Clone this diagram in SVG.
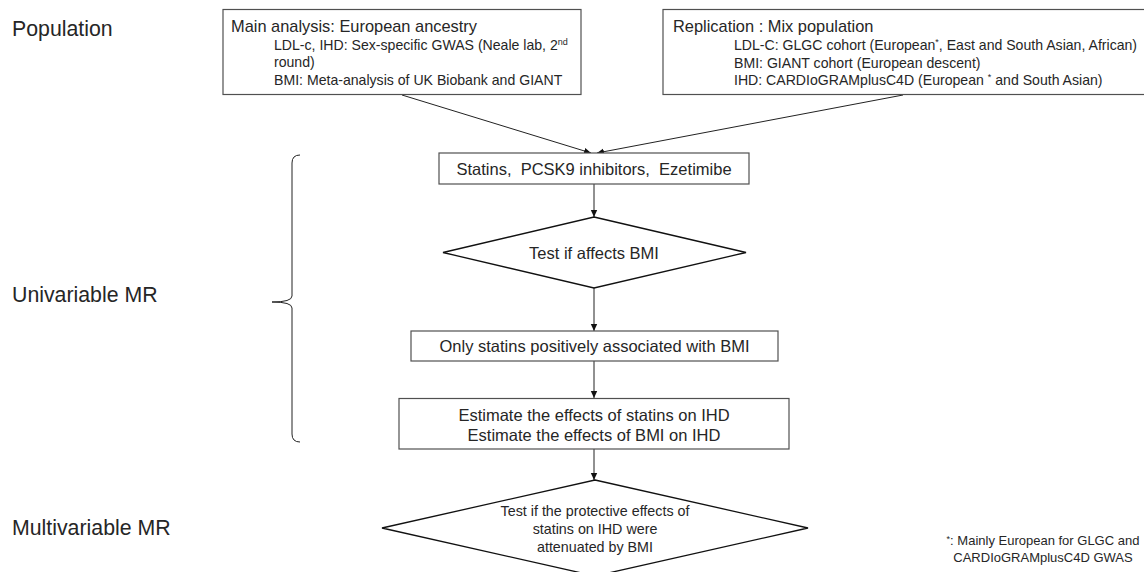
<svg xmlns="http://www.w3.org/2000/svg" width="1144" height="572" viewBox="0 0 1144 572">
<style>
text{font-family:"Liberation Sans",Arial,sans-serif;fill:#262626}
.lab{font-size:21.3px}
.title{font-size:16.4px}
.sub{font-size:14.1px}
.c{font-size:16.5px;text-anchor:middle}
.d{font-size:14.3px;text-anchor:middle}
.box{fill:#fff;stroke:#505050;stroke-width:1.2}
.dia{fill:#fff;stroke:#111;stroke-width:1.3}
.con{fill:none;stroke:#222;stroke-width:1}
.sup{font-size:9px}
</style>
<defs>
<marker id="ah" markerWidth="8" markerHeight="8" refX="7" refY="4" orient="auto" markerUnits="userSpaceOnUse">
<path d="M0,0.8 L7,4 L0,7.2 Z" fill="#111"/>
</marker>
</defs>
<g id="labels">
<text class="lab" x="12" y="36">Population</text>
<text class="lab" x="12" y="302">Univariable MR</text>
<text class="lab" x="12" y="535">Multivariable MR</text>
</g>
<g id="brace">
<path class="con" stroke="#333" d="M300,155 Q292,155 292,163 L292,296 Q292,302 272,302 Q292,302 292,308 L292,434 Q292,442 300,442"/>
</g>
<g id="connectors">
<line class="con" x1="402" y1="95" x2="591" y2="153" marker-end="url(#ah)"/>
<line class="con" x1="903" y1="95" x2="597" y2="153" marker-end="url(#ah)"/>
<line class="con" x1="594" y1="184" x2="594" y2="217" marker-end="url(#ah)"/>
<line class="con" x1="594" y1="288" x2="594" y2="331" marker-end="url(#ah)"/>
<line class="con" x1="594" y1="361" x2="594" y2="398" marker-end="url(#ah)"/>
<line class="con" x1="594" y1="449" x2="594" y2="480" marker-end="url(#ah)"/>
</g>
<g id="main">
<rect class="box" x="223" y="9.5" width="358" height="85"/>
<text class="title" x="231" y="31.5">Main analysis: European ancestry</text>
<text class="sub" x="274" y="50">LDL-c, IHD: Sex-specific GWAS (Neale lab, 2<tspan class="sup" dy="-5">nd</tspan></text>
<text class="sub" x="274" y="67">round)</text>
<text class="sub" x="274" y="85">BMI: Meta-analysis of UK Biobank and GIANT</text>
</g>
<g id="replication">
<rect class="box" x="663" y="9.5" width="500" height="85"/>
<text class="title" x="673" y="31.5">Replication : Mix population</text>
<text class="sub" x="734" y="50">LDL-C: GLGC cohort (European<tspan class="sup" dy="-5">*</tspan><tspan dy="5">, East and South Asian, African)</tspan></text>
<text class="sub" x="734" y="67.5">BMI: GIANT cohort (European descent)</text>
<text class="sub" x="734" y="85">IHD: CARDIoGRAMplusC4D (European <tspan class="sup" dy="-5">*</tspan><tspan dy="5"> and South Asian)</tspan></text>
</g>
<g id="drugs">
<rect class="box" x="439" y="153" width="310" height="31"/>
<text class="c" x="594" y="174.5" font-size="16.2px" xml:space="preserve">Statins,  PCSK9 inhibitors,  Ezetimibe</text>
</g>
<g id="test-bmi">
<polygon class="dia" points="594,217 746,252.5 594,288 443,252.5"/>
<text class="c" x="594" y="258.5">Test if affects BMI</text>
</g>
<g id="only-statins">
<rect class="box" x="411" y="331" width="367" height="30"/>
<text class="c" x="594.5" y="352">Only statins positively associated with BMI</text>
</g>
<g id="estimate">
<rect class="box" x="399" y="398.5" width="390" height="50.5"/>
<text class="c" x="594" y="420.5">Estimate the effects of statins on IHD</text>
<text class="c" x="594" y="440.5">Estimate the effects of BMI on IHD</text>
</g>
<g id="test-protective">
<polygon class="dia" points="595,480 808,528 595,576 382,528"/>
<text class="d" x="595" y="516">Test if the protective effects of</text>
<text class="d" x="595" y="534">statins on IHD were</text>
<text class="d" x="595" y="552">attenuated by BMI</text>
</g>
<g id="footnote">
<text font-size="13px" text-anchor="middle" x="1043" y="545"><tspan font-size="9px" dy="-3">*</tspan><tspan dy="3">: Mainly European for GLGC and</tspan></text>
<text font-size="13px" text-anchor="middle" x="1043" y="562">CARDIoGRAMplusC4D GWAS</text>
</g>
</svg>
